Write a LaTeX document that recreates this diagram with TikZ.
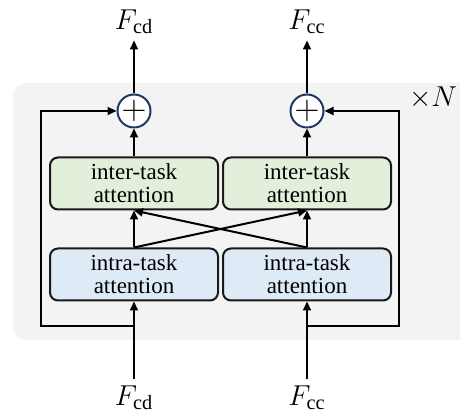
\documentclass[tikz,border=0pt]{standalone}
\usepackage{fontspec}
\setmainfont{Liberation Serif}
\usepackage{amsmath}
\usepackage{xcolor}
\usepackage{tikz}
\usetikzlibrary{arrows.meta,positioning}
\definecolor{bggray}{RGB}{243,243,243}
\definecolor{intergreen}{RGB}{226,239,218}
\definecolor{intrablue}{RGB}{222,234,246}
\definecolor{sumblue}{RGB}{31,56,100}
\tikzset{
  attbox/.style={rectangle, rounded corners=4pt, draw=black!90, line width=1pt,
                 minimum width=84pt, minimum height=26pt, align=center,
                 font=\fontsize{11.5}{11.5}\selectfont, inner sep=1pt},
  interbox/.style={attbox, fill=intergreen},
  intrabox/.style={attbox, fill=intrablue},
  sumnode/.style={circle, draw=sumblue, line width=1pt, fill=white,
                  minimum size=16pt, inner sep=0pt,
                  font=\fontsize{18}{18}\selectfont},
  arrow/.style={-{Triangle[length=4.5pt,width=4pt]}, line width=1pt, black},
  lbl/.style={font=\fontsize{14.5}{16}\selectfont, inner sep=3pt},
}
\begin{document}
\begin{tikzpicture}[x=0.5pt, y=-0.5pt]
  \useasboundingbox (0,0) rectangle (460,415);
  % shaded block, cut by the right edge
  \begin{scope}
    \clip (0,0) rectangle (460,415);
    \fill[bggray, rounded corners=7pt] (13,83) rectangle (480,340);
  \end{scope}

  \node[intrabox] (intracd) at (134,274.5) {intra-task\\attention};
  \node[intrabox, right=1.5pt of intracd] (intracc) {intra-task\\attention};
  \node[interbox, above=18.5pt of intracd] (intercd) {inter-task\\attention};
  \node[interbox, above=18.5pt of intracc] (intercc) {inter-task\\attention};
  \node[sumnode, above=14pt of intercd] (sumcd) {$+$};
  \node[sumnode, above=14pt of intercc] (sumcc) {$+$};

  \node[lbl] (outcd) at (134,22) {$F_{\mathrm{cd}}$};
  \node[lbl] (outcc) at (307,22) {$F_{\mathrm{cc}}$};
  \node[lbl] (incd) at (134,398) {$F_{\mathrm{cd}}$};
  \node[lbl] (incc) at (307,398) {$F_{\mathrm{cc}}$};
  \node[lbl] (rep) at (433,98) {$\times N$};

  \coordinate (splitcd) at (134,326);
  \coordinate (splitcc) at (307,326);

  \draw[arrow] (incd) -- (intracd);
  \draw[arrow] (incc) -- (intracc);
  \draw[arrow] (intracd) -- (intercd);
  \draw[arrow] (intracc) -- (intercc);
  \draw[arrow] (intracd.north) -- (intercc.south);
  \draw[arrow] (intracc.north) -- (intercd.south);
  \draw[arrow] (intercd) -- (sumcd);
  \draw[arrow] (intercc) -- (sumcc);
  \draw[arrow] (sumcd) -- (outcd);
  \draw[arrow] (sumcc) -- (outcc);
  % residual paths
  \draw[arrow] (splitcd) -- ++(-93,0) |- (sumcd);
  \draw[arrow] (splitcc) -- ++(92,0) |- (sumcc);
\end{tikzpicture}
\end{document}
